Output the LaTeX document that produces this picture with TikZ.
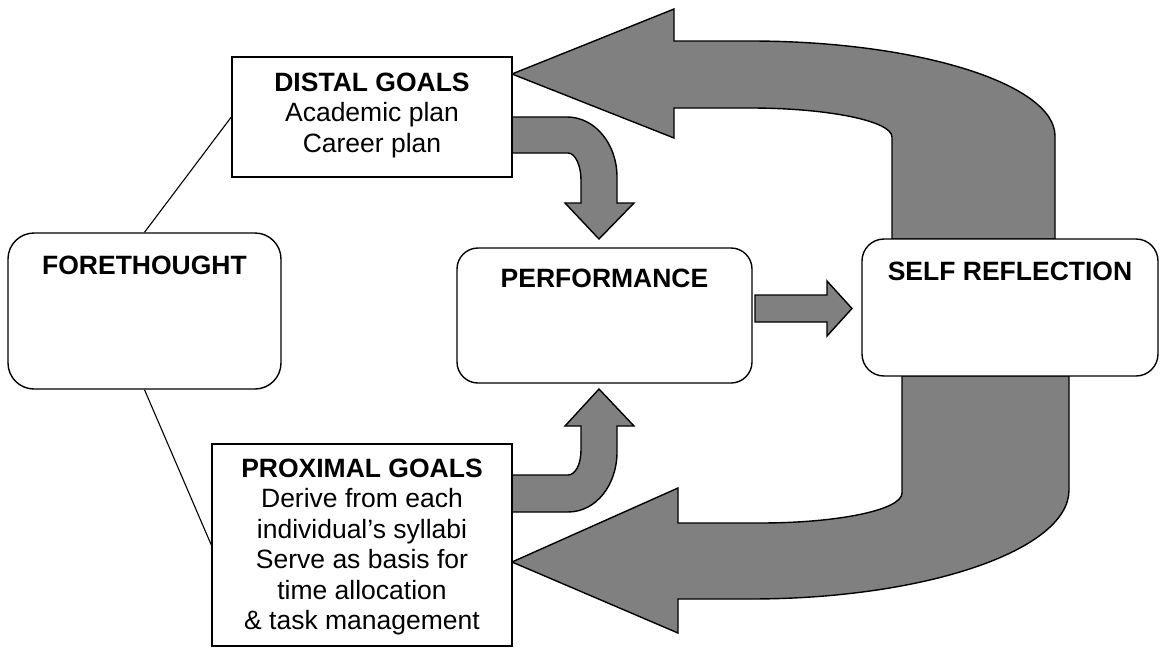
\documentclass[tikz,border=0pt]{standalone}
\usepackage{fontspec}
\setmainfont{Liberation Sans}
\usetikzlibrary{calc}
\definecolor{arrowgray}{HTML}{808080}
\tikzset{
  box/.style={draw=black, line width=1.4pt, fill=white, inner sep=0pt},
  rbox/.style={box, rounded corners=22pt},
  fat/.style={draw=black, line width=1.4pt, fill=arrowgray, line join=miter},
  txt/.style={inner sep=0pt, align=center, font=\fontsize{26.5}{30.5}\selectfont},
  hd/.style={inner sep=0pt, font=\fontsize{26.5}{30.5}\selectfont\bfseries},
  link/.style={draw=black, line width=1.1pt}
}
\begin{document}
\begin{tikzpicture}[x=1pt,y=-1pt]
\useasboundingbox (0,0) rectangle (1160,648);
\fill[white] (0,0) rectangle (1160,648);

% big return arrow to distal goals
\path[fat] (892,239) -- (892,137)
  .. controls (892,121) and (828,108) .. (750,108)
  -- (674,108) -- (674,138) -- (512,74) -- (674,9) -- (674,41) -- (750,41)
  .. controls (918,41) and (1055,84) .. (1055,136)
  -- (1055,239) -- cycle;

% big return arrow to proximal goals
\path[fat] (902,376) -- (902,493)
  .. controls (902,510) and (838,523) .. (760,523)
  -- (678,523) -- (678,488) -- (512,562) -- (678,633) -- (678,599) -- (750,599)
  .. controls (926,599) and (1069,550) .. (1069,490)
  -- (1069,376) -- cycle;

% distal -> performance
\path[fat] (512,117) -- (567,117)
  .. controls (595,117) and (617,144) .. (617,177)
  -- (617,203) -- (634,203) -- (599,239) -- (565,203) -- (581,203) -- (581,180)
  .. controls (581,165) and (575,153) .. (568,153)
  -- (512,153) -- cycle;

% proximal -> performance
\path[fat] (512,512) -- (568,512)
  .. controls (596,512) and (617,485) .. (617,452)
  -- (617,426) -- (634,426) -- (599,389) -- (565,426) -- (581,426) -- (581,450)
  .. controls (581,465) and (575,475) .. (568,475)
  -- (512,475) -- cycle;

% performance -> self reflection
\path[fat] (755,295) -- (827,295) -- (827,281) -- (852,308.5) -- (827,336) -- (827,322) -- (755,322) -- cycle;

% boxes
\node[rbox, rounded corners=26pt, minimum width=273pt, minimum height=156pt] (fore) at (144.5,311) {};
\node[box, minimum width=280pt, minimum height=120pt] (distal) at (372,117) {};
\node[box, minimum width=300pt, minimum height=202pt] (prox) at (362,545) {};
\node[rbox, rounded corners=21pt, minimum width=295pt, minimum height=135pt] (perf) at (604.5,315.5) {};
\node[rbox, minimum width=296pt, minimum height=137pt] (self) at (1010,307.5) {};

% texts
\node[hd] (foreT) at ($(fore.north)+(0,33)$) {FORETHOUGHT};
\node[hd] (perfT) at ($(perf.north)+(0,31.5)$) {PERFORMANCE};
\node[hd] (selfT) at ($(self.north)+(0,33)$) {SELF REFLECTION};
\node[txt] (distalT) at (372,115) {{\bfseries DISTAL GOALS}\\Academic plan\\Career plan};
\node[txt] (proxT) at (362,547) {{\bfseries PROXIMAL GOALS}\\Derive from each\\individual’s syllabi\\Serve as basis for\\time allocation\\\& task management};

% links
\draw[link] (fore.north) -- (distal.west);
\draw[link] (fore.south) -- (prox.west);
\end{tikzpicture}
\end{document}
